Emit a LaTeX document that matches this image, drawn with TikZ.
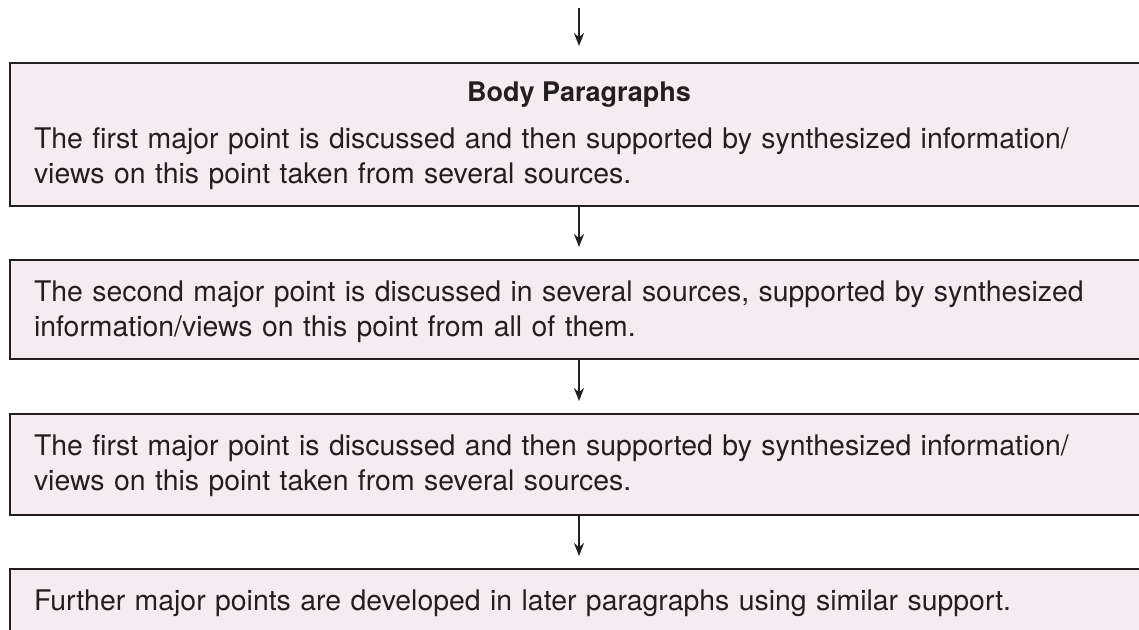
\documentclass[tikz,border=0pt]{standalone}
\usepackage{fontspec}
\setmainfont{TeX Gyre Heros}
\usetikzlibrary{arrows.meta}
\definecolor{boxPink}{RGB}{245,236,241}
\definecolor{inkGray}{RGB}{35,31,32}

\begin{document}
\begin{tikzpicture}
[x=0.5pt,y=-0.5pt,%
  darkArrow/.style={->,>={Stealth[length=6.5pt,width=5pt]},line width=1pt,color=inkGray,shorten >=6pt},%
  boxDecorate/.style={shape=rectangle,draw=inkGray,line width=1.2pt,fill=boxPink,
    minimum width=569pt,text width=545pt,inner xsep=12pt,inner ysep=4pt,align=left,anchor=north,
    text=inkGray,font=\fontsize{14.2}{17.5}\selectfont,
    execute at begin node={\setlength{\baselineskip}{17.5pt}}},%
  titleDecorate/.style={anchor=base,text=inkGray,font=\bfseries\fontsize{13.5}{16}\selectfont}]
\useasboundingbox (0,0) rectangle (1139,629);
%% boxes
\foreach \boxname/\top/\txth/\txtd/\txt in {
  body/62/38.5/25/{The first major point is discussed and then supported by synthesized information/\\
    views on this point taken from several sources.},
  second/259/16.85/24.65/{The second major point is discussed in several sources, supported by synthesized\\
    information/views on this point from all of them.},
  third/413/16.85/25.65/{The first major point is discussed and then supported by synthesized information/\\
    views on this point taken from several sources.},
  further/568/16.65/20/{Further major points are developed in later paragraphs using similar support.}}
{
  \node (\boxname) at (579,\top) [boxDecorate,text height=\txth pt,text depth=\txtd pt] {\txt};
}
\node (title) at (579,101) [titleDecorate] {Body Paragraphs};
\coordinate (entry) at (579,8);
%% arrows
\path (entry) edge[darkArrow,shorten >=8pt] (body.north)
\foreach \startnode/\endnode in {body/second, second/third, third/further}
{
  (\startnode.south) edge[darkArrow] (\endnode.north)
};
\end{tikzpicture}
\end{document}
